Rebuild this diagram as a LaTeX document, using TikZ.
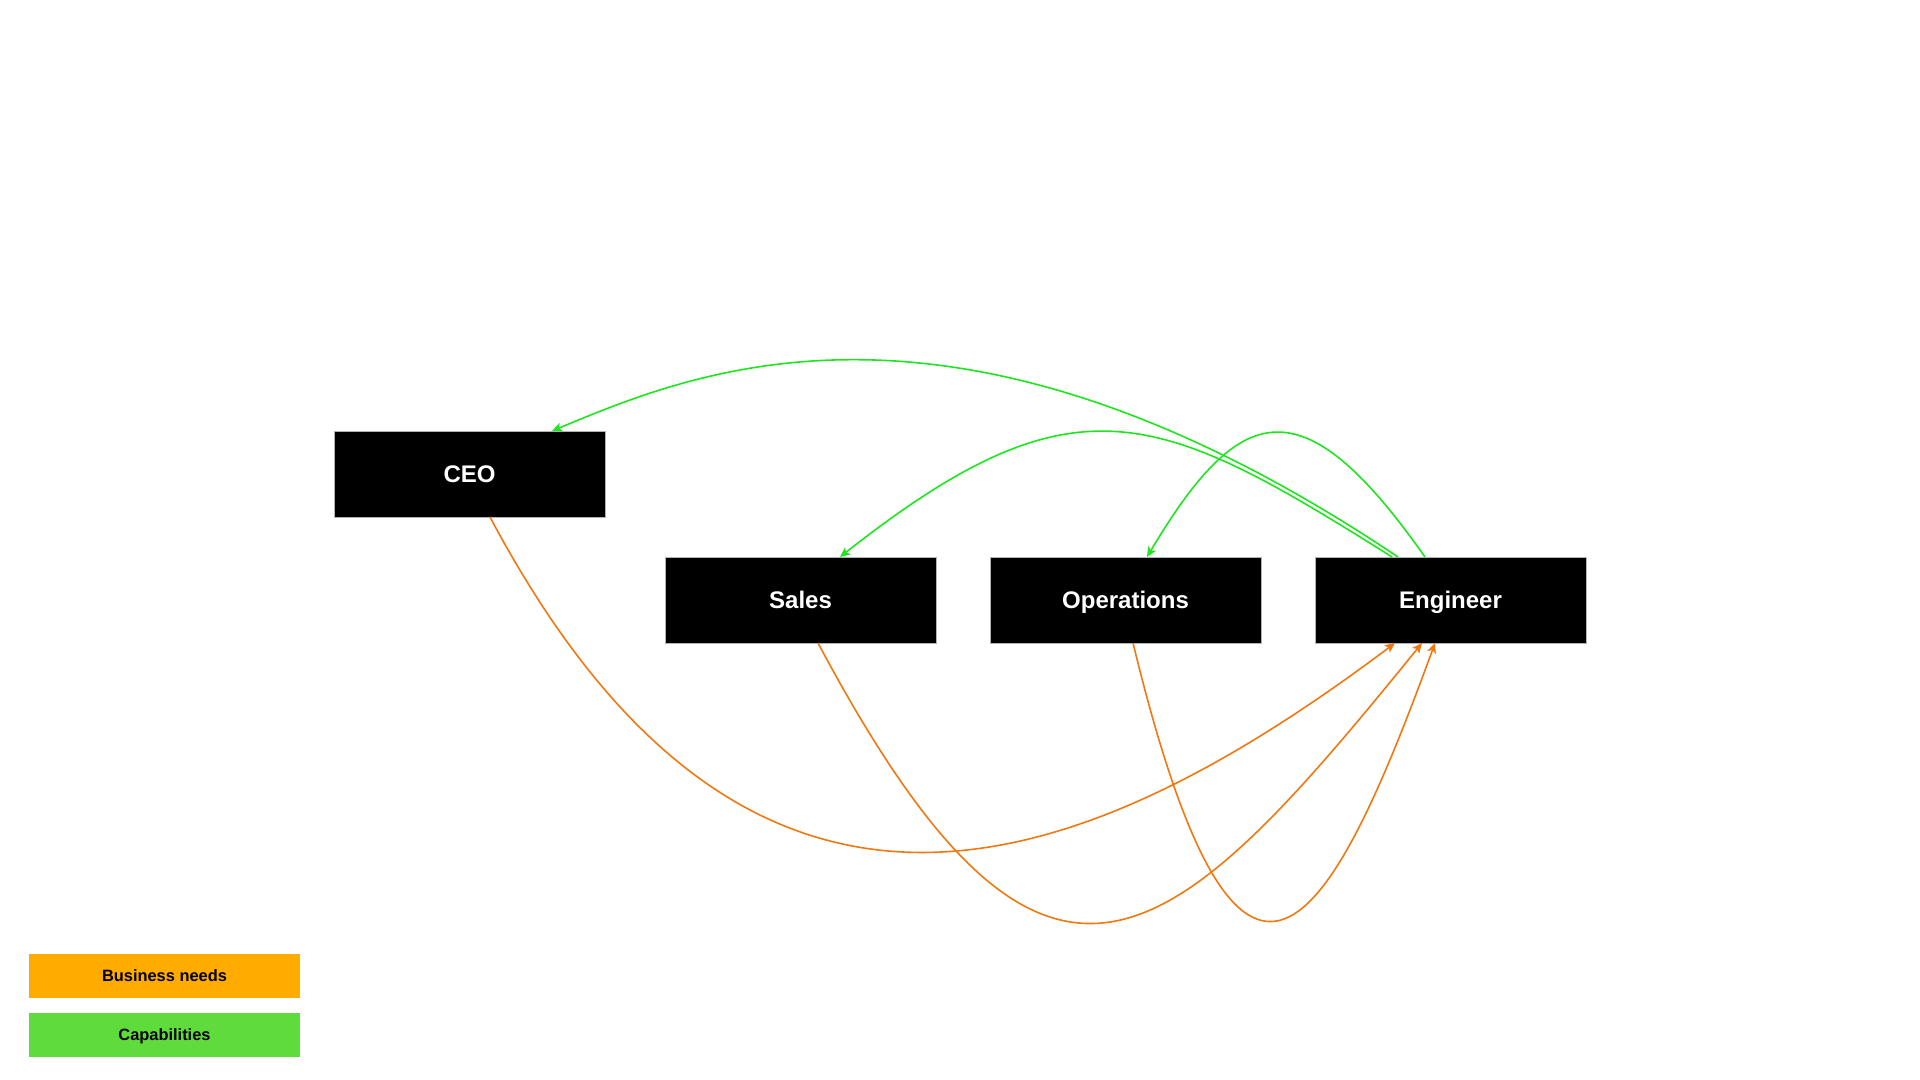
\documentclass[tikz,border=0pt]{standalone}
\usepackage{fontspec}
\setmainfont{Liberation Sans}
\usetikzlibrary{positioning,arrows.meta,calc}

\definecolor{needorange}{HTML}{F07810}
\definecolor{capgreen}{HTML}{1EE61E}
\definecolor{keyorange}{HTML}{FFAB00}
\definecolor{keygreen}{HTML}{60DB3C}

\tikzset{
  role/.style={fill=black, draw=gray!60, line width=0.4pt, text=white,
    font=\bfseries\fontsize{12}{14}\selectfont, text height=8.6pt, text depth=0pt,
    minimum width=135.5pt, minimum height=43pt, inner sep=0pt, outer sep=0pt},
  keybox/.style={font=\bfseries\fontsize{8.2}{10}\selectfont, text height=5.9pt, text depth=0pt,
    minimum width=135.5pt, minimum height=22pt, inner sep=0pt},
  need/.style={needorange, -{Stealth[length=5pt,width=4.5pt,inset=1.2pt]}},
  capability/.style={capgreen, -{Stealth[length=5pt,width=4.5pt,inset=1.2pt]}}
}

\begin{document}
\begin{tikzpicture}[x=0.5pt,y=-0.5pt,line width=0.8pt]

  % --- page frame (1920 x 1080, y grows downward) ---
  \useasboundingbox (0,0) rectangle (1920,1080);

  % --- roles ---
  \node[role] (ceo) at (469.5,474) {CEO};
  \node[role] (sales) at (800.5,600) {Sales};
  \node[role, right=27pt of sales] (ops) {Operations};
  \node[role, right=27pt of ops] (eng) {Engineer};

  % --- business needs: every role asks the engineer ---
  \draw[need] ($(ceo.south)+(20.5,0)$)
    .. controls +(255,480) and +(-326,245) .. ($(eng.south)+(-55.5,0)$);
  \draw[need] ($(sales.south)+(17.5,0)$)
    .. controls +(229,430) and +(-253,312) .. ($(eng.south)+(-28.5,0)$);
  \draw[need] ($(ops.south)+(7.5,0)$)
    .. controls +(108,445) and +(-105,288) .. ($(eng.south)+(-15.5,0)$);

  % --- capabilities: the engineer delivers back ---
  \draw[capability] ($(eng.north)+(-52.5,0)$)
    .. controls +(-441,-296) and +(146,-61) .. ($(ceo.north)+(82.5,0)$);
  \draw[capability] ($(eng.north)+(-58.5,0)$)
    .. controls +(-235,-148) and +(235,-185) .. ($(sales.north)+(39.5,0)$);
  \draw[capability] ($(eng.north)+(-25.5,0)$)
    .. controls +(-123,-175) and +(93,-156) .. ($(ops.north)+(21.5,0)$);

  % --- legend ---
  \node[keybox, fill=keyorange] (needkey) at (164.5,976) {Business needs};
  \node[keybox, fill=keygreen, below=6.5pt of needkey] (capkey) {Capabilities};

\end{tikzpicture}
\end{document}
